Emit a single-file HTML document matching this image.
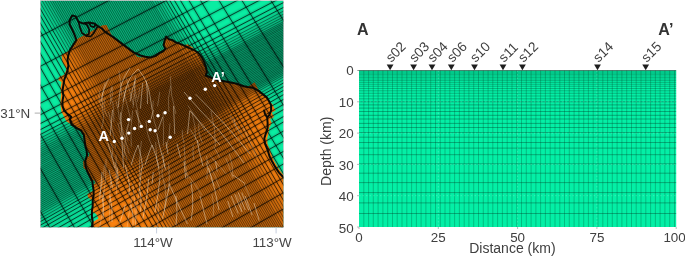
<!DOCTYPE html>
<html><head><meta charset="utf-8"><title>figure</title>
<style>
html,body{margin:0;padding:0;background:#fff;}
svg{display:block;}
text{font-family:"Liberation Sans",sans-serif;}
</style></head><body>
<svg width="685" height="257" viewBox="0 0 685 257">
<rect width="685" height="257" fill="#fff"/>
<g opacity="0.999">
<defs><filter id="bl" x="-5%" y="-5%" width="110%" height="110%"><feGaussianBlur stdDeviation="0.8"/></filter><clipPath id="mc"><rect x="40.6" y="0.8" width="242.7" height="226.4"/></clipPath></defs>
<g clip-path="url(#mc)">
<rect x="40.6" y="0.8" width="242.7" height="226.4" fill="#0AEDA2"/>
<polygon points="92.5,227.5 93,222 98.5,218.5 96.2,214 92,211.5 92.7,206 92.7,200.7 88,197.5 87.4,194 93.6,190.5 92.7,185 95.5,183 94,180 90.5,181.5 89.7,176.2 87.1,171 83.5,168 83,161.5 86,159.5 87.1,155.2 88.5,157 89.5,153.5 86.5,150 85.6,147.4 84.7,141.2 83.9,135.1 81.2,130.7 76.9,128.1 71.6,124.6 66.5,121.5 64.5,117.5 61.5,112 60.5,106 60.5,100 61,94 60.5,88 61.5,82 58.5,80.3 58.7,77.6 64.5,74.5 66.5,69 62.5,62 61.4,55 68.4,51.2 70.1,49.6 73.6,44.4 76.6,39.3 102.6,25.2 106.6,25 109.8,31.5 112.5,36.6 119.5,41.9 126.5,47.1 133.5,52.4 137,56.5 141,57.5 145.2,56.7 150.5,57.6 155.7,55.9 159.2,53.2 162.7,51.5 165.4,48.9 163.6,45.4 164.5,41 166.2,36.6 168.9,39.2 172.4,40.1 175,41.9 179.4,43.6 183.7,45.4 187.5,44.2 192.5,47.2 193.7,49.9 198.1,52.5 201.6,56.9 204.2,62.1 206,67.4 206.9,72.6 205.7,75.5 209,76.8 213,78.5 218,80.2 223,81 228.2,81.9 233.5,82.9 238.7,84.5 244,86.2 248.5,86.6 254.5,82.3 259,90.8 262.4,93.9 266.7,97.4 269.4,101.7 272.3,104 275.5,110.5 271.8,112.5 274,117 270,119.2 271.8,123 269.2,128 268.5,133.2 267.2,138.5 267.5,143.7 270,149.9 272,156 274.5,161.2 278,167.4 281.5,172.6 284.5,176.5 284.5,227.5" fill="#FA820F"/>
<g filter="url(#bl)"><g ><path d="M-91.1 -224.7L328.9 502.7M-88.7 -226L331.3 501.4M-86.5 -227.2L333.5 500.2M-84.5 -228.3L335.5 499.2M-82.6 -229.4L337.4 498.1M-80.9 -230.3L339.1 497.2M-79.3 -231.2L340.7 496.3M-77.6 -232.1L342.4 495.4M-76 -233L344 494.5M-74.3 -233.9L345.7 493.6M-72.7 -234.8L347.3 492.7M-71 -235.7L349 491.8M-69.4 -236.6L350.6 490.9M-67.7 -237.5L352.3 490M-66.1 -238.4L353.9 489.1M-64.4 -239.3L355.6 488.2M-62.7 -240.2L357.3 487.3M-61.1 -241.1L358.9 486.4M-59.4 -242L360.6 485.5M-57.8 -242.9L362.2 484.6M-56.1 -243.8L363.9 483.7M-54.5 -244.7L365.5 482.8M-52.8 -245.6L367.2 481.9M-51.2 -246.5L368.8 480.9M-49.5 -247.4L370.5 480M-47.9 -248.3L372.1 479.1M-46.2 -249.2L373.8 478.2M-44.5 -250.1L375.5 477.3M-42.9 -251L377.1 476.4M-41.2 -251.9L378.8 475.5M-39.6 -252.8L380.4 474.6M-37.9 -253.7L382.1 473.7M-36.3 -254.6L383.7 472.8M-34.6 -255.5L385.4 471.9M-33 -256.4L387 471M-31.3 -257.3L388.7 470.1M-29.7 -258.2L390.3 469.2M-28 -259.1L392 468.3M-26.3 -260L393.7 467.4M-24.7 -260.9L395.3 466.5M-23 -261.9L397 465.6M-21.4 -262.8L398.6 464.7M-19.7 -263.7L400.3 463.8M-18.1 -264.6L401.9 462.9M-16.4 -265.5L403.6 462M-14.8 -266.4L405.2 461.1M-13.1 -267.3L406.9 460.2M-11.4 -268.2L408.6 459.3M-9.8 -269.1L410.2 458.4M-8.1 -270L411.9 457.5M-6.7 -270.7L413.8 456.4M-5.4 -271.5L415.7 455.4M-3.7 -272.4L418.2 454M-2.1 -273.2L420.4 452.8M-0.4 -274.1L422.9 451.4M1.5 -275.2L425.7 449.9M14.3 151.8L306.8 -1.1M14.3 154.9L306.8 2M14.3 157.6L306.8 4.7M14.3 160.1L306.8 7.2M14.3 162.4L306.8 9.5M14.3 164.5L306.6 11.3M14.3 166.6L306.4 13M14.4 168.6L306.3 14.7M14.4 170.5L306.1 16.3M14.4 172.5L306 18.1M14.4 174.6L305.8 19.8M14.4 176.6L305.7 21.5M14.4 178.6L305.5 23.2M14.5 180.7L305.4 24.9M14.5 182.7L305.2 26.6M14.5 184.7L305.1 28.3M14.5 186.7L304.9 30M14.5 188.8L304.8 31.7M14.5 190.8L304.6 33.4M14.5 192.8L304.4 35.2M14.6 194.9L304.3 36.9M14.6 196.9L304.1 38.6M14.6 198.9L304 40.3M14.6 201L303.8 42M14.6 203L303.6 43.7M14.6 205L303.5 45.4M14.7 207L303.3 47.1M14.7 209.1L303.2 48.8M14.7 211.1L303 50.6M14.7 213.1L302.8 52.3M14.7 215.2L302.7 54M14.7 217.2L302.5 55.7M14.8 219.2L302.4 57.4M14.8 221.2L302.2 59.1M14.8 223.3L302 60.8M14.8 225.4L301.9 62.6M14.8 227.6L301.7 64.5M14.8 230.2L301.5 66.7M14.8 233.1L301.5 69.6M-235.3 -146.1L184.7 581.3M-206.1 -162.1L213.9 565.4M-182.6 -174.8L237.4 552.6M-163.8 -185.1L256.2 542.4M-148.8 -193.3L271.2 534.2M-136.8 -199.8L283.2 527.6M-127.2 -205.1L292.8 522.4M-119.5 -209.3L300.5 518.2M-113.3 -212.6L306.7 514.9M-108.1 -215.5L311.9 512M-103.7 -217.9L316.3 509.6M-100 -219.9L320 507.6M-96.7 -221.7L323.3 505.8M-93.7 -223.3L326.3 504.1M3.7 -276.3L428.8 448.2M6.1 -277.6L432.2 446.3M9.1 -279.2L436.6 443.9M13 -281.3L442.2 440.8M18.5 -284.2L450.1 436.4M25.9 -288.2L460.7 430.5M37.7 -294.5L477.7 421.1M52.7 -302.4L497.8 409.9M74.3 -314.2L519.5 398.1M101.7 -329.2L546.8 383.2M136.8 -348.3L581.9 364.1M14.3 -126.1L306.8 -279M14.3 -46.1L306.8 -199M14.3 8.9L306.8 -144M14.3 49.9L306.8 -103M14.3 79.9L306.8 -73M14.3 101.9L306.8 -51M14.3 116.9L306.8 -36M14.3 128.4L306.8 -24.5M14.3 137.2L306.8 -15.7M14.3 143.3L306.8 -9.6M14.3 148.1L306.8 -4.8M14.8 236.2L301.5 72.7M14.8 239.8L301.5 76.3M14.8 243.6L301.5 80.1M14.8 247.9L301.5 84.4M14.8 252.6L301.5 89.1M14.8 257.7L301.5 94.2M14.8 262.8L301.5 99.3M14.8 269.8L301.5 106.3M14.8 275.2L301.5 111.7M14.8 284.3L301.5 120.8M14.8 294.5L301.5 131M14.8 304.6L301.5 141.1M14.8 317.2L301.5 153.7M14.8 330.9L301.5 167.4M14.8 345.9L301.5 182.4M14.8 362.2L301.5 198.7M14.8 380.2L301.5 216.7M14.8 399.9L301.5 236.4M14.8 424.9L301.5 261.4M14.8 454.9L301.5 291.4" fill="none" stroke="#000" stroke-width="0.8" stroke-opacity="0.7"/></g></g>
<g ><path d="M-91.1 -224.7L328.9 502.7M-88.7 -226L331.3 501.4M-86.5 -227.2L333.5 500.2M-84.5 -228.3L335.5 499.2M-82.6 -229.4L337.4 498.1M-80.9 -230.3L339.1 497.2M-79.3 -231.2L340.7 496.3M-77.6 -232.1L342.4 495.4M-76 -233L344 494.5M-74.3 -233.9L345.7 493.6M-72.7 -234.8L347.3 492.7M-71 -235.7L349 491.8M-69.4 -236.6L350.6 490.9M-67.7 -237.5L352.3 490M-66.1 -238.4L353.9 489.1M-64.4 -239.3L355.6 488.2M-62.7 -240.2L357.3 487.3M-61.1 -241.1L358.9 486.4M-59.4 -242L360.6 485.5M-57.8 -242.9L362.2 484.6M-56.1 -243.8L363.9 483.7M-54.5 -244.7L365.5 482.8M-52.8 -245.6L367.2 481.9M-51.2 -246.5L368.8 480.9M-49.5 -247.4L370.5 480M-47.9 -248.3L372.1 479.1M-46.2 -249.2L373.8 478.2M-44.5 -250.1L375.5 477.3M-42.9 -251L377.1 476.4M-41.2 -251.9L378.8 475.5M-39.6 -252.8L380.4 474.6M-37.9 -253.7L382.1 473.7M-36.3 -254.6L383.7 472.8M-34.6 -255.5L385.4 471.9M-33 -256.4L387 471M-31.3 -257.3L388.7 470.1M-29.7 -258.2L390.3 469.2M-28 -259.1L392 468.3M-26.3 -260L393.7 467.4M-24.7 -260.9L395.3 466.5M-23 -261.9L397 465.6M-21.4 -262.8L398.6 464.7M-19.7 -263.7L400.3 463.8M-18.1 -264.6L401.9 462.9M-16.4 -265.5L403.6 462M-14.8 -266.4L405.2 461.1M-13.1 -267.3L406.9 460.2M-11.4 -268.2L408.6 459.3M-9.8 -269.1L410.2 458.4M-8.1 -270L411.9 457.5M-6.7 -270.7L413.8 456.4M-5.4 -271.5L415.7 455.4M-3.7 -272.4L418.2 454M-2.1 -273.2L420.4 452.8M-0.4 -274.1L422.9 451.4M1.5 -275.2L425.7 449.9M14.3 151.8L306.8 -1.1M14.3 154.9L306.8 2M14.3 157.6L306.8 4.7M14.3 160.1L306.8 7.2M14.3 162.4L306.8 9.5M14.3 164.5L306.6 11.3M14.3 166.6L306.4 13M14.4 168.6L306.3 14.7M14.4 170.5L306.1 16.3M14.4 172.5L306 18.1M14.4 174.6L305.8 19.8M14.4 176.6L305.7 21.5M14.4 178.6L305.5 23.2M14.5 180.7L305.4 24.9M14.5 182.7L305.2 26.6M14.5 184.7L305.1 28.3M14.5 186.7L304.9 30M14.5 188.8L304.8 31.7M14.5 190.8L304.6 33.4M14.5 192.8L304.4 35.2M14.6 194.9L304.3 36.9M14.6 196.9L304.1 38.6M14.6 198.9L304 40.3M14.6 201L303.8 42M14.6 203L303.6 43.7M14.6 205L303.5 45.4M14.7 207L303.3 47.1M14.7 209.1L303.2 48.8M14.7 211.1L303 50.6M14.7 213.1L302.8 52.3M14.7 215.2L302.7 54M14.7 217.2L302.5 55.7M14.8 219.2L302.4 57.4M14.8 221.2L302.2 59.1M14.8 223.3L302 60.8M14.8 225.4L301.9 62.6M14.8 227.6L301.7 64.5M14.8 230.2L301.5 66.7M14.8 233.1L301.5 69.6" fill="none" stroke="#000" stroke-width="0.58" stroke-opacity="0.72"/><path d="M-235.3 -146.1L184.7 581.3M-206.1 -162.1L213.9 565.4M-182.6 -174.8L237.4 552.6M-163.8 -185.1L256.2 542.4M-148.8 -193.3L271.2 534.2M-136.8 -199.8L283.2 527.6M-127.2 -205.1L292.8 522.4M-119.5 -209.3L300.5 518.2M-113.3 -212.6L306.7 514.9M-108.1 -215.5L311.9 512M-103.7 -217.9L316.3 509.6M-100 -219.9L320 507.6M-96.7 -221.7L323.3 505.8M-93.7 -223.3L326.3 504.1M3.7 -276.3L428.8 448.2M6.1 -277.6L432.2 446.3M9.1 -279.2L436.6 443.9M13 -281.3L442.2 440.8M18.5 -284.2L450.1 436.4M25.9 -288.2L460.7 430.5M37.7 -294.5L477.7 421.1M52.7 -302.4L497.8 409.9M74.3 -314.2L519.5 398.1M101.7 -329.2L546.8 383.2M136.8 -348.3L581.9 364.1M14.3 -126.1L306.8 -279M14.3 -46.1L306.8 -199M14.3 8.9L306.8 -144M14.3 49.9L306.8 -103M14.3 79.9L306.8 -73M14.3 101.9L306.8 -51M14.3 116.9L306.8 -36M14.3 128.4L306.8 -24.5M14.3 137.2L306.8 -15.7M14.3 143.3L306.8 -9.6M14.3 148.1L306.8 -4.8M14.8 236.2L301.5 72.7M14.8 239.8L301.5 76.3M14.8 243.6L301.5 80.1M14.8 247.9L301.5 84.4M14.8 252.6L301.5 89.1M14.8 257.7L301.5 94.2M14.8 262.8L301.5 99.3M14.8 269.8L301.5 106.3M14.8 275.2L301.5 111.7M14.8 284.3L301.5 120.8M14.8 294.5L301.5 131M14.8 304.6L301.5 141.1M14.8 317.2L301.5 153.7M14.8 330.9L301.5 167.4M14.8 345.9L301.5 182.4M14.8 362.2L301.5 198.7M14.8 380.2L301.5 216.7M14.8 399.9L301.5 236.4M14.8 424.9L301.5 261.4M14.8 454.9L301.5 291.4" fill="none" stroke="#000" stroke-width="0.8" stroke-opacity="0.85"/></g>
<polyline points="91.9,227.5 92.7,221.7 91.9,216.5 91.9,211.2 92.7,206 92.7,200.7 93.6,195.5 93.6,190.2 92.7,185 92.4,181.5 89.7,176.2 87.1,171 85.4,165.7 85.4,160.5 87.1,155.2 86.5,150 85.6,147.4 84.7,141.2 83.9,135.1 81.2,130.7 76.9,128.1 71.6,124.6 69.9,119.4 71.2,116.7 67.7,114.1 64.2,110.6 62.5,106.2 62.5,101 63.4,95.7 62.5,90.5 63.4,85.2 64.2,80 65.7,75.9 67.5,70.6 68.4,65.4 67.5,60.1 68.4,54.9 70.1,49.6 73.6,44.4 76.4,40 74.9,35.6 72.2,29.5 69.6,24.2 69.6,19.9 72.2,15.5 75.7,16.4 78.4,21.6 82.7,23.4 88.9,22.5 94.1,23.4 98.5,26.5 102,28.6 105.5,32.2 112.5,36.6 119.5,41.9 126.5,47.1 133.5,52.4 140.5,55.5 145.2,56.7 150.5,57.6 155.7,55.9 159.2,53.2 162.7,51.5 165.4,48.9 163.6,45.4 164.5,41 166.2,36.6 168.9,39.2 172.4,40.1 175,41.9 179.4,43.6 183.7,45.4 189.4,48.1 193.7,49.9 198.1,52.5 201.6,56.9 204.2,62.1 206,67.4 206.9,72.6 205.7,75.5 209,76.8 213,78.5 218,80.2 223,81 228.2,81.9 233.5,82.9 238.7,84.5 244,86.2 247.5,86.9 252.7,87.7 258,90.4 262.4,93.9 266.7,97.4 269.4,101.7 271.1,105.2 271.1,110.5 269.4,114.9 267.2,117.5 265,114 264.1,110.5 265,114 267.2,117.5 267.6,122.7 267.6,128 265.9,133.2 264.3,138.5 265,143.7 267.6,149.9 269.4,156 272,161.2 275.5,167.4 279,172.6 284.5,178.5" fill="none" stroke="#0a0a05" stroke-width="2.0" stroke-linejoin="round" stroke-linecap="round"/>
<polyline points="78.4,21.6 80.1,27.7 81.9,33 86.2,35.8 88.9,33.9 89.2,29.5 87.1,25.1 84.5,23.6" fill="none" stroke="#0a0a05" stroke-width="1.7" stroke-linejoin="round" stroke-linecap="round"/>
<polyline points="86.2,35.8 90.6,36.5 93.5,33.5 95.2,30.5 97.6,26.5" fill="none" stroke="#0a0a05" stroke-width="1.7" stroke-linejoin="round" stroke-linecap="round"/>
<polyline points="88.9,22.8 91,26.2 94,27.2 95.5,24.5" fill="none" stroke="#0a0a05" stroke-width="1.7" stroke-linejoin="round" stroke-linecap="round"/>
<path d="M249.6 115.6l1 2.2" stroke="#3a1a00" stroke-width="1.2" fill="none"/>
<path d="M100.8 101.6Q104.3 85.3 109 78.3M118.3 107.5Q119.5 90 121.8 83Q124.2 76 130 67.8M123 101.6Q126.5 85.3 129.4 79.5Q132.3 73.7 138.1 69M138.1 69Q145.1 77.2 147.4 84.8Q149.8 92.3 152.1 109.8M130 101.6Q132.3 87.7 135.8 78.3M140.5 108.6Q141.6 92.3 142.8 83M147.5 104Q147.5 90 146.3 80.7M112.5 110Q111.3 124 110.2 135.7M120.7 112.3Q121.1 128.7 122.5 139.2M107.8 142.7Q112.5 156.6 114.8 168.3M121.8 140.3Q123 156.6 123.5 168.3M131.2 164.8Q134.6 152 138.1 145M138.1 145Q141.6 156.6 142.8 168.3M145.1 164.8Q149.8 149.7 152.1 145M152.1 145Q156.8 156.6 159.1 168.3M156.8 133.3Q159.1 145 160.8 150.8Q162.6 156.6 165 168.3M135.8 110Q138.1 119.3 141.6 126.3M153.3 110L151 119.3M162.6 117Q160.3 124 158 129.8M102 172Q100.8 188.3 99.7 200M109 169.7Q111.3 181.3 112.5 188.3M117.2 167.3L118.3 179M125.3 165Q127.7 176.7 128.8 181.3Q130 186 128.8 195.3M141.6 167.3Q140.5 179 139.9 183.7Q139.3 188.3 140.4 194.2Q141.6 200 140.5 211.6M148.6 179Q147.5 193 146.3 200Q145.1 207 142.8 218.6M153.3 172L152.1 183.7M169.6 183.7Q167.3 195.3 166.2 201.2Q165 207 162.6 218.6M125.3 204.7Q123 214 119.5 223.3M102 195.3Q104.3 207 103.2 218.6M173.5 106Q174.2 120 174.7 134M189.8 110.7Q188.7 122.3 187.5 134M189.8 110.7Q200.3 122.3 205.6 128.7Q210.8 135.1 220 145M184 92Q198 108.3 207.3 117.7Q216.6 127 223.6 136Q230.6 145 244 163M195.7 94.3Q216.6 115.3 227.1 126.9Q237.6 138.6 250 154M233 175L245.2 183.7M208.5 168Q215.5 189 219 210M191 182Q194.5 203 191 220.5M184 161L185.7 178.5M170 185.5Q180.5 210 187.5 224M254 203L259.2 220.5M215.5 161L217.2 171.5M177 143.5L180.5 157.5M231.2 196L238.2 213.5M234.7 194.2L241.7 211.7M238.2 192.5L245.2 210M241.7 192.5L248.7 210M245.2 196L252.2 215.2M227.7 201L233 217M176 196Q178 212 176 225M200 196Q204 212 207 224M160 178Q158 196 155 212M131 205Q134 216 133 225M110 196Q113 210 112 222M197 140Q199 152 203 166M166 142L168 154" fill="none" stroke="#ffeed6" stroke-opacity="0.62" stroke-width="0.7"/>
<path d="M123.3 90.4Q127.5 106 131.2 121.6M126.3 77.8Q129.5 91.5 133.6 105.1M105 82.2Q100.8 95.1 102.5 108M116.1 154.7Q115.6 175 116.8 195.2M170.3 76.3Q170.2 95.1 175.9 113.9M108.5 111.6Q112.7 129.7 115.7 147.8M146 120.3Q146.1 134.5 153.3 148.7M114.8 161.9Q117.3 174.7 118.4 187.6M132.6 110.5Q129.9 128.6 131.3 146.7M141.4 140.9Q138.7 160.1 139.4 179.4M170.6 85.9Q167 98.8 168.9 111.6M135.2 75.3Q134.7 91.6 133 107.9M163 112.4Q163.8 129.1 163.4 145.8M132.8 183.4Q135.5 203.6 135.4 223.8M104.4 164.7Q104.2 180.5 98.9 196.4M120.5 122.1Q124.5 137.9 129.2 153.6M112.1 85.8Q108.6 93.6 111 101.4M117.8 122.8Q122 141.4 127.1 160.1M139.6 189.3Q135.7 207.6 135.4 226M129.9 118.4Q124.1 137.6 123.9 156.7M112.7 101.3Q114 111.6 113.9 121.8M118.9 70.6Q120.9 83.3 121.8 96.1M168.6 163.2Q170 177.4 168.6 191.7M103.9 191.4Q104.2 209.2 99.7 227M128.3 123.9Q124.7 132.3 128.1 140.8M104.8 98.2Q102.4 107.4 107.2 116.6M100 90.4Q97.2 98.8 101.9 107.2M163 152.9Q163.2 161.9 165.9 170.8M126.2 86.6Q122.7 105.2 119.8 123.8M134.8 81.6Q134 90 136.9 98.3M159.7 91.8Q158.8 99 157.5 106.3M110.6 143.3Q114.7 150.7 111.1 158.1M162.2 164Q160.7 174.6 164.6 185.2M155.6 141.9Q155.7 159.7 160.2 177.4M158.4 203Q159.3 221.8 155.2 240.7M153.3 100.6Q151.2 114.8 156.6 128.9M102 107.7Q105.3 118.3 101.3 129M132.2 196.5Q127.9 217.1 125.8 237.7M115.9 100.6Q118.7 110.2 119.5 119.8M164.8 183.5Q167 197.2 164.4 210.9M106.1 159.2Q106.6 178.9 103.1 198.5M134.4 94.1Q139.1 112 139 129.9M170 123.4Q169.9 135.9 166.2 148.4M112.2 87.2Q113.5 96.2 109.9 105.2M110.5 181.6Q108.9 202.3 109.7 223M139.5 87.7Q139.5 94.8 137.2 101.9M211.9 193.7Q214.5 204.9 213.3 216.1M189.8 128.9Q195.3 137 199.7 145.2M193.2 144.8Q192.5 152.4 193.7 159.9M207.1 160.4Q216.3 175.9 220.5 191.3M210.1 155.5Q217.8 164.8 226.3 174M187.8 105.4Q196.5 118.2 205.4 131.1M225.8 157.9Q229.4 167.2 232.3 176.6M229.9 115.1Q235.1 126 243 136.9M229.1 153.2Q233.4 165.8 232.9 178.4M206 163.2Q211.2 174.6 214.1 185.9M206.7 155.7Q208 167.4 206.9 179.1M236.4 194.5Q241.7 203.2 241.8 211.9M233.8 118Q234.1 124.9 239.5 131.8M191.8 111.9Q196.1 125.9 195.5 139.8M185.8 173Q196.2 184.3 202.1 195.6M242.7 125.9Q249.9 141.7 257.2 157.6M244.3 184.1Q247.5 191.4 250.5 198.7M198.7 123.6Q197.6 133.3 202.2 142.9M213.8 146.8Q217.4 152.4 219.5 157.9M210.9 111.1Q216 128.8 215.4 146.5M182.3 130.2Q181.8 136.6 184.1 143.1M184.1 145.1Q184.4 162 187.6 178.8" fill="none" stroke="#ffeed6" stroke-opacity="0.42" stroke-width="0.6"/>
<circle cx="114.3" cy="141.5" r="1.7" fill="#fff"/>
<circle cx="122" cy="138.2" r="1.7" fill="#fff"/>
<circle cx="128.8" cy="133.1" r="1.7" fill="#fff"/>
<circle cx="134.6" cy="128.5" r="1.7" fill="#fff"/>
<circle cx="141.3" cy="126.4" r="1.7" fill="#fff"/>
<circle cx="149.3" cy="121.4" r="1.7" fill="#fff"/>
<circle cx="150.2" cy="129.7" r="1.7" fill="#fff"/>
<circle cx="155.1" cy="130.7" r="1.7" fill="#fff"/>
<circle cx="158" cy="115.8" r="1.7" fill="#fff"/>
<circle cx="165.1" cy="112.8" r="1.7" fill="#fff"/>
<circle cx="128.5" cy="119.6" r="1.7" fill="#fff"/>
<circle cx="170.2" cy="137.3" r="1.7" fill="#fff"/>
<circle cx="190" cy="98.3" r="1.7" fill="#fff"/>
<circle cx="205.3" cy="89.2" r="1.7" fill="#fff"/>
<circle cx="214.7" cy="85.6" r="1.7" fill="#fff"/>
<text x="98.6" y="140.6" font-size="14.5" font-weight="bold" fill="#fff">A</text>
<text x="211.2" y="81.9" font-size="14.5" font-weight="bold" fill="#fff">A’</text>
</g>
<rect x="40.6" y="0.8" width="242.7" height="226.4" fill="none" stroke="#05402c" stroke-width="0.5" stroke-opacity="0.45"/>
<path d="M34.7 113.1H40.5" stroke="#8a8a8a" stroke-width="0.7"/>
<path d="M156.6 227.2V233.4M276.1 227.2V233.4" stroke="#b9c3d4" stroke-width="0.8"/>
<g font-size="13.4" fill="#444">
<text x="0.3" y="117.5">31°N</text>
<text x="153" y="246.6" text-anchor="middle">114°W</text>
<text x="272.1" y="246.6" text-anchor="middle">113°W</text>
</g>
<rect x="359" y="70.5" width="317.2" height="156.5" fill="#04EFA6"/>
<path d="M363.8 70.5V227M368.6 70.5V227M373.3 70.5V227M378.1 70.5V227M382.9 70.5V227M387.7 70.5V227M392.5 70.5V227M397.2 70.5V227M402 70.5V227M406.8 70.5V227M411.6 70.5V227M416.4 70.5V227M421.1 70.5V227M425.9 70.5V227M430.7 70.5V227M435.5 70.5V227M440.3 70.5V227M445 70.5V227M449.8 70.5V227M454.6 70.5V227M459.4 70.5V227M464.2 70.5V227M468.9 70.5V227M473.7 70.5V227M478.5 70.5V227M483.3 70.5V227M488.1 70.5V227M492.8 70.5V227M497.6 70.5V227M502.4 70.5V227M507.2 70.5V227M512 70.5V227M516.7 70.5V227M521.5 70.5V227M526.3 70.5V227M531.1 70.5V227M535.9 70.5V227M540.6 70.5V227M545.4 70.5V227M550.2 70.5V227M555 70.5V227M559.8 70.5V227M564.5 70.5V227M569.3 70.5V227M574.1 70.5V227M578.9 70.5V227M583.7 70.5V227M588.4 70.5V227M593.2 70.5V227M598 70.5V227M602.8 70.5V227M607.6 70.5V227M612.3 70.5V227M617.1 70.5V227M621.9 70.5V227M626.7 70.5V227M631.5 70.5V227M636.2 70.5V227M641 70.5V227M645.8 70.5V227M650.6 70.5V227M655.4 70.5V227M660.1 70.5V227M664.9 70.5V227M669.7 70.5V227M674.5 70.5V227" fill="none" stroke="#003a22" stroke-width="0.5" stroke-opacity="0.55"/>
<path d="M359 101.8H676.2M359 104.9H676.2M359 108.1H676.2M359 111.5H676.2M359 115.3H676.2M359 119H676.2M359 123.4H676.2M359 127.5H676.2M359 132.5H676.2M359 137.2H676.2M359 142.5H676.2M359 148.1H676.2M359 154.7H676.2M359 163.8H676.2M359 173.2H676.2M359 182.6H676.2M359 192.6H676.2M359 202.9H676.2M359 213.5H676.2" fill="none" stroke="#003a22" stroke-width="0.55" stroke-opacity="0.68"/>
<path d="M359 71.8H676.2M359 73.1H676.2M359 74.4H676.2M359 75.9H676.2M359 77.4H676.2M359 79H676.2M359 80.6H676.2M359 82.4H676.2M359 84.3H676.2M359 86.3H676.2M359 88.5H676.2M359 90.8H676.2M359 93.3H676.2M359 96H676.2M359 98.8H676.2" fill="none" stroke="#003a22" stroke-width="0.85" stroke-opacity="0.36"/>
<path d="M438.3 70.5V227M517.6 70.5V227M596.9 70.5V227M359 101.8H676.2M359 133.1H676.2M359 164.4H676.2M359 195.7H676.2" fill="none" stroke="#fff" stroke-opacity="0.28" stroke-width="0.7" stroke-dasharray="1.5 2"/>
<path d="M358 70.5H676.2" stroke="#1a2a22" stroke-width="0.7" stroke-opacity="0.8"/>
<path d="M357 70.5H359M357 101.8H359M357 133.1H359M357 164.4H359M357 195.7H359M357 227H359M359 227V229M438.3 227V229M517.6 227V229M596.9 227V229M676.2 227V229" stroke="#999" stroke-width="0.7" fill="none"/>
<g font-size="13.4" fill="#404040">
<text x="353.6" y="74.6" text-anchor="end">0</text>
<text x="353.6" y="107.1" text-anchor="end">10</text>
<text x="353.6" y="138.4" text-anchor="end">20</text>
<text x="353.6" y="169.7" text-anchor="end">30</text>
<text x="353.6" y="201" text-anchor="end">40</text>
<text x="353.6" y="232.8" text-anchor="end">50</text>
<text x="359" y="241.9" text-anchor="middle">0</text>
<text x="438.3" y="241.9" text-anchor="middle">25</text>
<text x="517.6" y="241.9" text-anchor="middle">50</text>
<text x="596.9" y="241.9" text-anchor="middle">75</text>
<text x="674.6" y="241.9" text-anchor="middle">100</text>
<text x="512.4" y="253.3" text-anchor="middle" font-size="14">Distance (km)</text>
<text transform="translate(331.2 151.3) rotate(-90)" text-anchor="middle" font-size="14">Depth (km)</text>
<text transform="translate(391.2 63.0) rotate(-45)" font-size="13.6">s02</text>
<text transform="translate(414.7 63.0) rotate(-45)" font-size="13.6">s03</text>
<text transform="translate(433.1 63.0) rotate(-45)" font-size="13.6">s04</text>
<text transform="translate(452.4 63.0) rotate(-45)" font-size="13.6">s06</text>
<text transform="translate(475.6 63.0) rotate(-45)" font-size="13.6">s10</text>
<text transform="translate(504.1 63.0) rotate(-45)" font-size="13.6">s11</text>
<text transform="translate(523.5 63.0) rotate(-45)" font-size="13.6">s12</text>
<text transform="translate(598.6 63.0) rotate(-45)" font-size="13.6">s14</text>
<text transform="translate(646.8 63.0) rotate(-45)" font-size="13.6">s15</text>
</g>
<path d="M386.7 64.4h6.8l-3.4 5.9z" fill="#1e1e1e"/>
<path d="M410.2 64.4h6.8l-3.4 5.9z" fill="#1e1e1e"/>
<path d="M428.6 64.4h6.8l-3.4 5.9z" fill="#1e1e1e"/>
<path d="M447.9 64.4h6.8l-3.4 5.9z" fill="#1e1e1e"/>
<path d="M471.1 64.4h6.8l-3.4 5.9z" fill="#1e1e1e"/>
<path d="M499.6 64.4h6.8l-3.4 5.9z" fill="#1e1e1e"/>
<path d="M519 64.4h6.8l-3.4 5.9z" fill="#1e1e1e"/>
<path d="M594.1 64.4h6.8l-3.4 5.9z" fill="#1e1e1e"/>
<path d="M642.3 64.4h6.8l-3.4 5.9z" fill="#1e1e1e"/>
<g font-size="16" font-weight="bold" fill="#333">
<text x="357" y="34.6">A</text>
<text x="658.3" y="34.6">A’</text>
</g>
</g>
</svg>
</body></html>
